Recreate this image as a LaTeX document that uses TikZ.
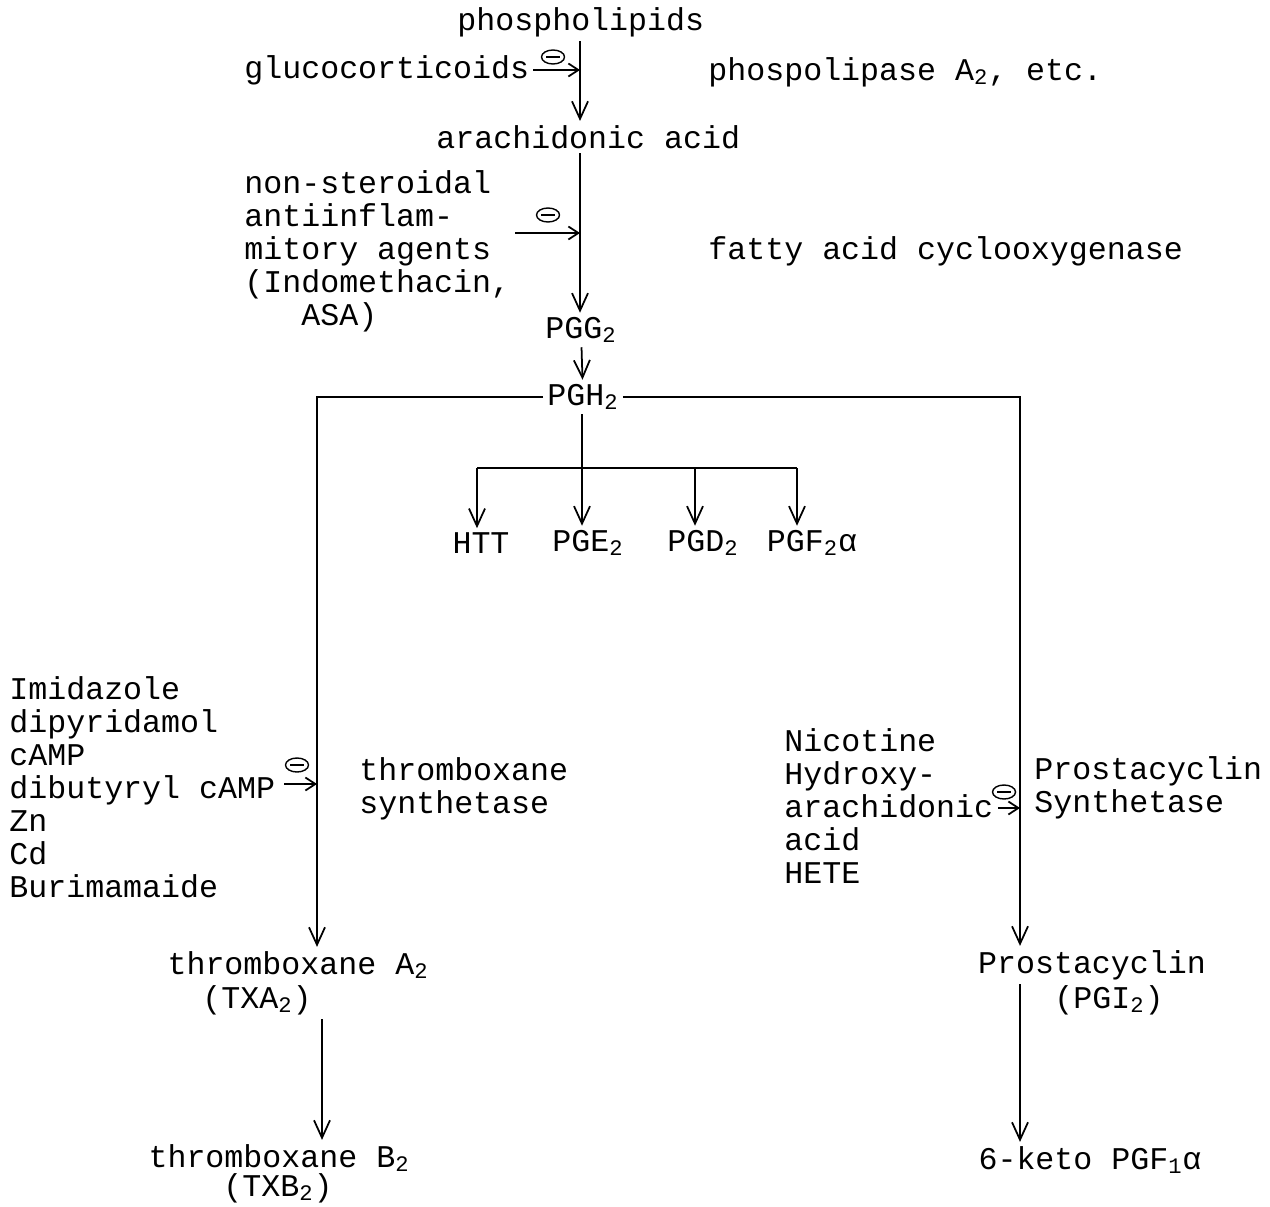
\documentclass[tikz,border=0pt]{standalone}
\usepackage{fontspec}
\setmonofont{Liberation Mono}
\usetikzlibrary{arrows.meta,shapes.geometric}
\newcommand{\sub}[1]{\textsubscript{#1}}

\begin{document}
\begin{tikzpicture}[x=0.02cm, y=-0.02cm, line width=1pt,
  every node/.style={font=\ttfamily\fontsize{18}{18.8}\selectfont, inner sep=2pt},
  lbl/.style={anchor=west, align=left},
  inhib/.style={draw, ellipse, line width=0.8pt, minimum width=0.46cm, minimum height=0.28cm, inner sep=0pt,
    path picture={\draw[line width=1pt] ([xshift=-0.14cm]path picture bounding box.center) -- ([xshift=0.14cm]path picture bounding box.center);}},
  inh/.style={-{Straight Barb[length=2mm,width=2.6mm]}},
  >={Straight Barb[length=3.5mm,width=3.2mm]}]
  \useasboundingbox (0,0) rectangle (1270,1206);
  % columns of the main lines
  \coordinate (mcol) at (580,0);
  \coordinate (lcol) at (317,0);
  \coordinate (rcol) at (1020,0);
  \coordinate (txcol) at (322,0);
  % top of the cascade
  \node[lbl] (phos) at (453,22) {phospholipids};
  \node[lbl] (gluco) at (240,70) {glucocorticoids};
  \node[lbl] (pla) at (704,72) {phospolipase A\sub{2}, etc.};
  \node[lbl] (arach) at (432,137) {arachidonic acid};
  \node[lbl] (nsaid) at (240,251) {non-steroidal\\antiinflam-\\mitory agents\\(Indomethacin,\\\phantom{xxx}ASA)};
  \node[lbl] (cox) at (704,251) {fatty acid cyclooxygenase};
  \node (pgg) at (581,330) {PGG\sub{2}};
  \node (pgh) at (583,397) {PGH\sub{2}};
  \node[inhib] (inhglu) at (553,57) {};
  \node[inhib] (inhnsa) at (548,215) {};
  \coordinate (nsa) at (515,233);
  \draw[->] (phos.south -| mcol) -- (arach.north -| mcol);
  \draw[inh] (gluco.east) -- (gluco.east -| mcol);
  \draw[->] (arach.south -| mcol) -- (pgg.north -| mcol);
  \draw[inh] (nsa) -- (nsa -| mcol);
  \draw[->] (pgg) -- (pgh);
  % products of PGH2
  \node (htt) at (481,543) {HTT};
  \node (pge) at (588,543) {PGE\sub{2}};
  \node (pgd) at (703,543) {PGD\sub{2}};
  \node (pgf) at (812,543) {PGF\sub{2}α};
  \coordinate (fork) at (582,468);
  \coordinate (barL) at (477,468);
  \coordinate (barD) at (695,468);
  \coordinate (barR) at (797,468);
  \draw (pgh.south -| fork) -- (fork);
  \draw (barL) -- (barR);
  \draw[->] (barL) -- (barL |- htt.north);
  \draw[->] (fork) -- (fork |- pge.north);
  \draw[->] (barD) -- (barD |- pgd.north);
  \draw[->] (barR) -- (barR |- pgf.north);
  % thromboxane branch
  \node[lbl] (txinh) at (5,787) {Imidazole\\dipyridamol\\cAMP\\dibutyryl cAMP\\Zn\\Cd\\Burimamaide};
  \node[lbl] (txsyn) at (355,789) {thromboxane\\synthetase};
  \node[inhib] (inhtx) at (297,765) {};
  \coordinate (txi) at (284,784);
  \node (txa) at (298,965) {thromboxane A\sub{2}};
  \node (txaab) at (257,1000) {(TXA\sub{2})};
  \node (txb) at (279,1158) {thromboxane B\sub{2}};
  \node (txbab) at (278,1188) {(TXB\sub{2})};
  \draw[->] (pgh.west) -| (txa.north -| lcol);
  \draw[inh] (txi) -- (txi -| lcol);
  \draw[->] (txaab.south -| txcol) -- (txb.north -| txcol);
  % prostacyclin branch
  \node[lbl] (pginh) at (780,806) {Nicotine\\Hydroxy-\\arachidonic\\acid\\HETE};
  \node[lbl] (pgsyn) at (1030,788) {Prostacyclin\\Synthetase};
  \node[inhib] (inhpg) at (1004,792) {};
  \coordinate (pgi0) at (998,808);
  \node (pgi) at (1092,965) {Prostacyclin};
  \node (pgiab) at (1109,1000) {(PGI\sub{2})};
  \node (keto) at (1090,1160) {6-keto PGF\sub{1}α};
  \draw[->] (pgh.east) -| (pgi.north -| rcol);
  \draw[inh] (pgi0) -- (pgi0 -| rcol);
  \draw[->] (pgi.south -| rcol) -- (keto.north -| rcol);
\end{tikzpicture}
\end{document}
